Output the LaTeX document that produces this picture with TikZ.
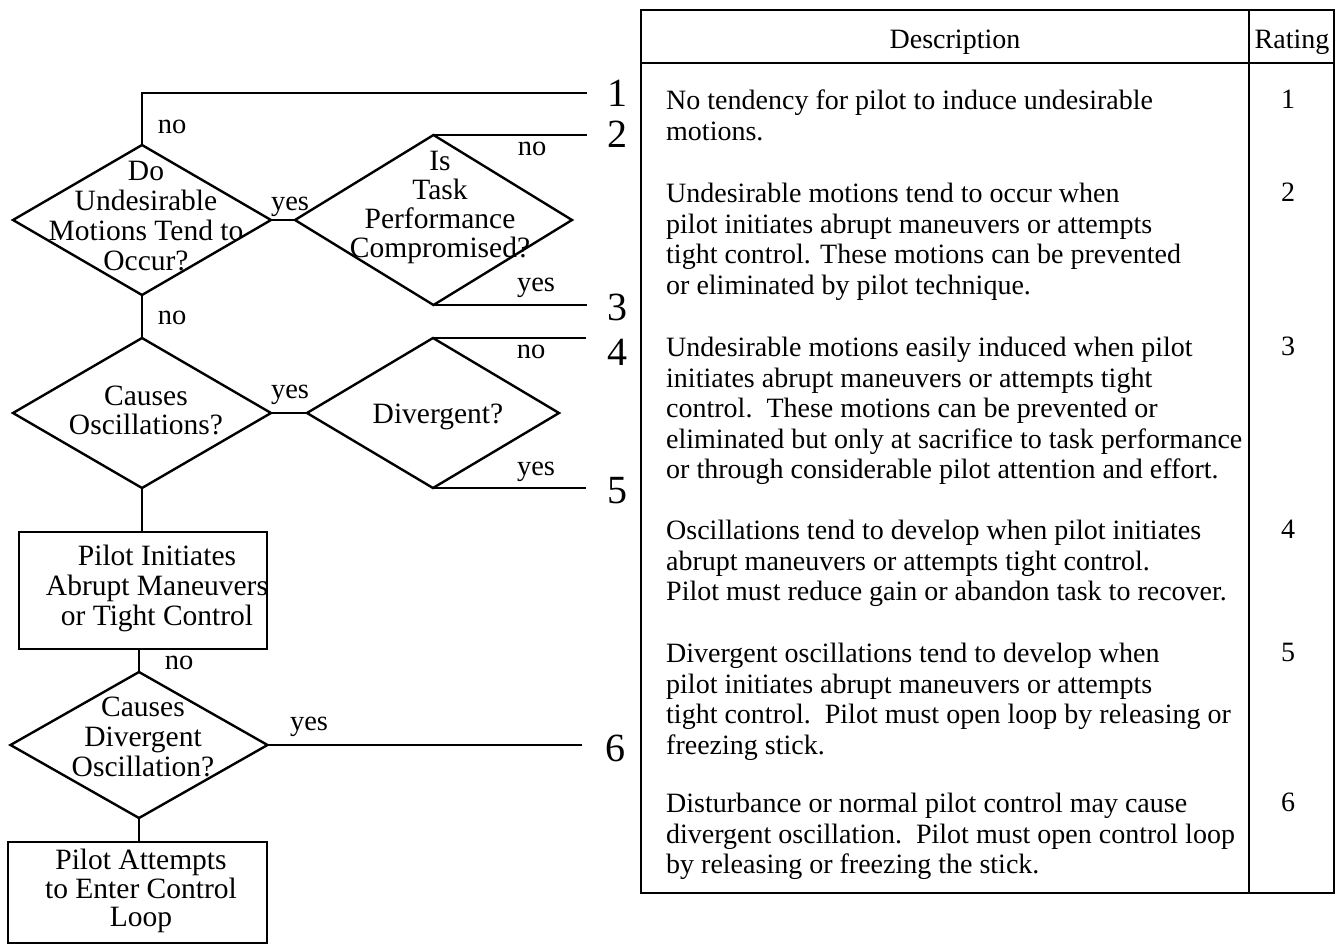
\documentclass[tikz,border=0pt]{standalone}
\usepackage{fontspec}
\setmainfont{Liberation Serif}
\usetikzlibrary{shapes.geometric}
\begin{document}
\begin{tikzpicture}[x=1pt, y=-1pt, line width=2.4pt,
  dia/.style={draw, shape=diamond, inner sep=0pt, outer sep=0pt},
  box/.style={draw, rectangle, inner sep=0pt, outer sep=0pt},
  txt/.style={align=center, inner sep=0pt, font=\fontsize{29.5}{30}\selectfont},
  lbl/.style={inner sep=0pt, font=\fontsize{28.5}{30}\selectfont},
  num/.style={inner sep=0pt, font=\fontsize{40}{40}\selectfont},
  desc/.style={align=left, anchor=north west, inner sep=0pt, font=\fontsize{28}{30.5}\selectfont},
  rate/.style={anchor=base, inner sep=0pt, font=\fontsize{28}{30.5}\selectfont}]
\useasboundingbox (0,0) rectangle (1339,945);

% ---- decision flow ----
\node[dia, minimum width=258pt, minimum height=150pt] (d1) at (142,220) {};
\node[dia, minimum width=277pt, minimum height=170pt] (d2) at (433.5,220) {};
\node[dia, minimum width=258pt, minimum height=150pt] (d3) at (142,413) {};
\node[dia, minimum width=252pt, minimum height=150pt] (d4) at (433,413) {};
\node[box, minimum width=248pt, minimum height=117pt] (b1) at (143,590.5) {};
\node[dia, minimum width=257pt, minimum height=146pt] (d5) at (139,745) {};
\node[box, minimum width=259pt, minimum height=101pt] (b2) at (137.5,892.5) {};

\node[txt] (t1) at (146,216) {Do\\Undesirable\\Motions Tend to\\Occur?};
\node[txt, font=\fontsize{29.5}{29}\selectfont] (t2) at (440,207) {Is\\Task\\Performance\\Compromised?};
\node[txt, font=\fontsize{29.5}{29}\selectfont] (t3) at (146,410) {Causes\\Oscillations?};
\node[txt] (t4) at (438,417) {Divergent?};
\node[txt] (t5) at (157,588) {Pilot Initiates\\Abrupt Maneuvers\\or Tight Control};
\node[txt] (t6) at (143,737) {Causes\\Divergent\\Oscillation?};
\node[txt, font=\fontsize{29.5}{28.5}\selectfont] (t7) at (141,891) {Pilot Attempts\\to Enter Control\\Loop};

% free ends of the outcome lines
\coordinate (e1) at (587,93);
\coordinate (e2) at (587,135);
\coordinate (e3) at (587,305);
\coordinate (e4) at (586,338);
\coordinate (e5) at (586,488);
\coordinate (e6) at (582,745);

\draw (d1.north) |- (e1);
\draw (d2.north) -- (e2);
\draw (d2.south) -- (e3);
\draw (d4.north) -- (e4);
\draw (d4.south) -- (e5);
\draw (d5.east) -- (e6);
\draw (d1.east) -- (d2.west);
\draw (d3.east) -- (d4.west);
\draw (d1.south) -- (d3.north);
\draw (d3.south) -- (d3.south |- b1.north);
\draw (d5.north |- b1.south) -- (d5.north);
\draw (d5.south) -- (d5.south |- b2.north);

% branch labels
\node[lbl] (no1) at (172,127) {no};
\node[lbl] (no2) at (532,149) {no};
\node[lbl] (yes1) at (290,207) {yes};
\node[lbl] (yes2) at (536,288) {yes};
\node[lbl] (no3) at (172,318) {no};
\node[lbl] (yes3) at (290,395) {yes};
\node[lbl] (no4) at (531,352) {no};
\node[lbl] (yes4) at (536,472) {yes};
\node[lbl] (no5) at (179,663) {no};
\node[lbl] (yes5) at (309,727) {yes};

% outcome ratings
\node[num] (n1) at (617,93) {1};
\node[num] (n2) at (617,134) {2};
\node[num] (n3) at (617,307) {3};
\node[num] (n4) at (617,352) {4};
\node[num] (n5) at (617,491) {5};
\node[num] (n6) at (615,748) {6};

% ---- rating table ----
\node[box, minimum width=693pt, minimum height=883pt] (tab) at (987.5,451.5) {};
\coordinate (hdr) at (0,63);
\coordinate (col) at (1249,0);
\draw (tab.west |- hdr) -- (tab.east |- hdr);
\draw (col |- tab.north) -- (col |- tab.south);

\node[lbl, font=\fontsize{28}{30}\selectfont] (hd) at (955,42) {Description};
\node[lbl, font=\fontsize{28}{30}\selectfont] (hr) at (1292,42) {Rating};

\node[desc] (r1) at (665,89) {No tendency for pilot to induce undesirable\\motions.};
\node[desc] (r2) at (665,182) {Undesirable motions tend to occur when\\pilot initiates abrupt maneuvers or attempts\\tight control. These motions can be prevented\\or eliminated by pilot technique.};
\node[desc] (r3) at (665,336) {Undesirable motions easily induced when pilot\\initiates abrupt maneuvers or attempts tight\\control.\ \ These motions can be prevented or\\eliminated but only at sacrifice to task performance\\or through considerable pilot attention and effort.};
\node[desc] (r4) at (665,519) {Oscillations tend to develop when pilot initiates\\abrupt maneuvers or attempts tight control.\\Pilot must reduce gain or abandon task to recover.};
\node[desc] (r5) at (665,642) {Divergent oscillations tend to develop when\\pilot initiates abrupt maneuvers or attempts\\tight control.\ \ Pilot must open loop by releasing or\\freezing stick.};
\node[desc] (r6) at (665,792) {Disturbance or normal pilot control may cause\\divergent oscillation.\ \ Pilot must open control loop\\by releasing or freezing the stick.};

\node[rate] (s1) at (1288,108) {1};
\node[rate] (s2) at (1288,201) {2};
\node[rate] (s3) at (1288,355) {3};
\node[rate] (s4) at (1288,538) {4};
\node[rate] (s5) at (1288,661) {5};
\node[rate] (s6) at (1288,811) {6};
\end{tikzpicture}
\end{document}
